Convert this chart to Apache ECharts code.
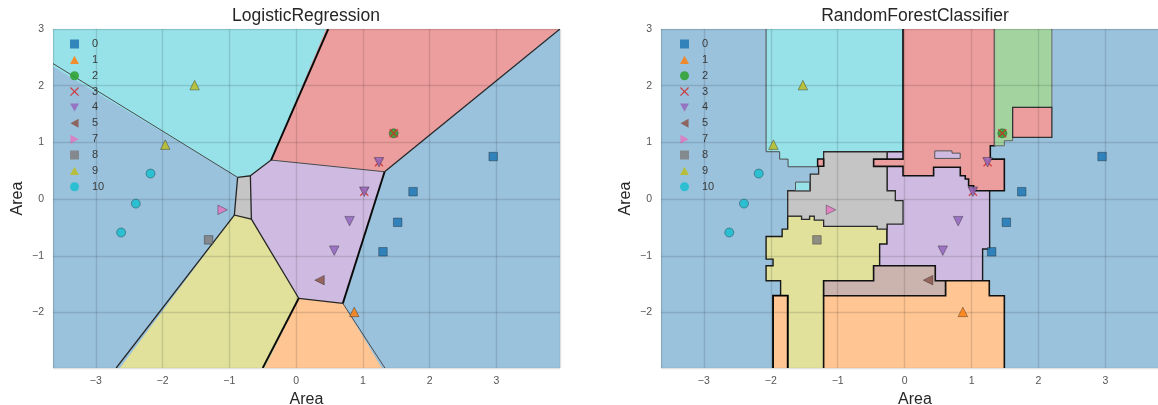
<!DOCTYPE html>
<html><head><meta charset="utf-8">
<script src="https://cdn.jsdelivr.net/npm/echarts@6/dist/echarts.min.js"></script>
<style>html,body{margin:0;padding:0;background:#fff}#c{width:1158px;height:405px}</style>
</head><body><div id="c"></div>
<script>
// ---------- data ----------
const classLabels = ['0','1','2','3','4','5','7','8','9','10'];
const xRange = [-3.64, 3.95];
const yRange = [-2.98, 3.0];
const titles = ['LogisticRegression', 'RandomForestClassifier'];
const axisName = 'Area';

// sample points per class
const pts0  = [[2.95,0.75],[1.75,0.13],[1.52,-0.41],[1.30,-0.93]];
const pts1  = [[0.87,-1.99]];
const pts2  = [[1.46,1.16]];
const pts3  = [[1.46,1.16],[1.24,0.65],[1.02,0.13]];
const pts4  = [[1.24,0.65],[1.02,0.13],[0.80,-0.39],[0.57,-0.91]];
const pts5  = [[0.35,-1.43]];
const pts7  = [[-1.10,-0.19]];
const pts8  = [[-1.31,-0.72]];
const pts9  = [[-1.52,2.01],[-1.96,0.96]];
const pts10 = [[-2.18,0.45],[-2.40,-0.08],[-2.62,-0.59]];
const classPoints = [pts0,pts1,pts2,pts3,pts4,pts5,pts7,pts8,pts9,pts10];

// plot frame (class 0 background)
const frame = [[xRange[0],yRange[0]],[xRange[1],yRange[0]],[xRange[1],yRange[1]],[xRange[0],yRange[1]]];

// LogisticRegression decision regions (vertices)
const lrCyan   = [[-3.64,3.0],[0.48,3.0],[-0.375,0.688],[-0.685,0.41],[-0.876,0.383],[-3.64,2.39]];
const lrRed    = [[0.48,3.0],[3.95,3.0],[1.324,0.482],[-0.375,0.688]];
const lrPurple = [[-0.375,0.688],[1.324,0.482],[0.699,-1.84],[0.039,-1.75],[-0.670,-0.353],[-0.685,0.41]];
const lrGray   = [[-0.876,0.383],[-0.685,0.41],[-0.670,-0.353],[-0.925,-0.282]];
const lrYellow = [[-0.925,-0.282],[-0.670,-0.353],[0.039,-1.75],[-0.5,-2.98],[-2.694,-2.98]];
const lrOrange = [[0.039,-1.75],[0.699,-1.84],[1.328,-2.98],[-0.5,-2.98]];
// LogisticRegression boundaries
const lrEdgesStrong = [
  [[0.48,3.0],[-0.375,0.688]],
  [[1.324,0.482],[0.699,-1.84]],
  [[0.039,-1.75],[-0.5,-2.98]]
];
const lrEdgesMedium = [
  [[1.324,0.482],[3.95,3.0]],
  [[-0.925,-0.282],[-2.694,-2.98]],
  [[-0.670,-0.353],[0.039,-1.75]],
  [[-0.876,0.383],[-0.685,0.41],[-0.670,-0.353],[-0.925,-0.282],[-0.876,0.383]],
  [[-0.685,0.41],[-0.375,0.688]],
  [[0.039,-1.75],[0.699,-1.84]]
];
const lrEdgesLight = [
  [[-3.64,2.39],[-0.876,0.383]],
  [[-0.375,0.688],[1.324,0.482]],
  [[0.699,-1.84],[1.328,-2.98]]
];

// RandomForest decision regions (vertices)
const rfCyan = [[-2.07,3.0],[-0.024,3.0],[-0.024,0.835],[-1.21,0.835],[-1.21,0.57],[-1.742,0.57],[-1.742,0.705],[-1.867,0.705],[-1.867,0.835],[-2.07,0.835]];
const rfYellow = [[-1.747,-0.294],[-0.263,-0.294],[-0.263,-0.794],[-0.373,-0.794],[-0.373,-1.176],[-0.463,-1.176],[-0.463,-1.44],[-1.21,-1.44],[-1.21,-2.98],[-1.747,-2.98],[-1.747,-1.705],[-1.853,-1.705],[-1.853,-1.44],[-2.07,-1.44],[-2.07,-1.176],[-1.966,-1.176],[-1.966,-1.06],[-2.07,-1.06],[-2.07,-0.66],[-1.83,-0.66],[-1.83,-0.53],[-1.747,-0.53]];
const rfPurple = [[-0.263,0.835],[1.27,0.835],[1.27,-0.88],[1.165,-0.88],[1.165,-1.44],[0.458,-1.44],[0.458,-1.176],[-0.373,-1.176],[-0.373,-0.794],[-0.263,-0.794]];
const rfGray = [[-1.21,0.835],[-0.263,0.835],[-0.263,0.147],[-0.139,0.147],[-0.139,-0.029],[-0.024,-0.029],[-0.024,-0.441],[-0.263,-0.441],[-0.263,-0.53],[-0.41,-0.53],[-0.41,-0.48],[-1.21,-0.48],[-1.21,-0.37],[-1.35,-0.37],[-1.35,-0.30],[-1.42,-0.30],[-1.42,-0.36],[-1.54,-0.36],[-1.54,-0.30],[-1.747,-0.30],[-1.747,0.147],[-1.41,0.147],[-1.41,0.44],[-1.285,0.44],[-1.285,0.577],[-1.21,0.577]];
const rfRed = [[-0.024,3.0],[1.344,3.0],[1.344,0.94],[1.28,0.94],[1.28,0.705],[1.49,0.705],[1.49,0.147],[1.03,0.147],[1.03,0.235],[0.956,0.235],[0.956,0.353],[0.906,0.353],[0.906,0.41],[0.832,0.41],[0.832,0.56],[0.433,0.56],[0.433,0.41],[-0.024,0.41],[-0.024,0.577],[-0.463,0.577],[-0.463,0.705],[-0.024,0.705]];
const rfLilac = [[0.45,0.717],[0.45,0.85],[0.708,0.85],[0.708,0.81],[0.83,0.81],[0.83,0.717]];
const rfGreen = [[1.344,3.0],[2.20,3.0],[2.20,1.617],[1.614,1.617],[1.614,1.03],[1.49,1.03],[1.49,0.94],[1.344,0.94]];
const rfRedSquare = [[1.614,1.088],[2.20,1.088],[2.20,1.617],[1.614,1.617]];
const rfCyanSmall = [[-1.63,0.147],[-1.42,0.147],[-1.42,0.30],[-1.63,0.30]];
const rfRedSmall = [[-1.30,0.577],[-1.21,0.577],[-1.21,0.705],[-1.30,0.705]];
const rfBrown = [[-1.21,-1.705],[-1.21,-1.44],[-0.463,-1.44],[-0.463,-1.176],[0.458,-1.176],[0.458,-1.44],[0.613,-1.44],[0.613,-1.705]];
const rfOrange = [[-1.21,-2.98],[-1.21,-1.705],[0.613,-1.705],[0.613,-1.44],[1.265,-1.44],[1.265,-1.705],[1.49,-1.705],[1.49,-2.98]];
const rfOrangeStrip = [[-1.966,-2.98],[-1.966,-1.705],[-1.747,-1.705],[-1.747,-2.98]];

// ---------- styles ----------
const FONT = '"Liberation Sans", Arial, Helvetica, sans-serif';
const markerColor = ['#1f77b4','#ff7f0e','#2ca02c','#d62728','#9467bd','#8c564b','#e377c2','#7f7f7f','#bcbd22','#17becf'];
const fill = {blue:'#9ac2dd', orange:'#ffc593', green:'#a3d4a0', red:'#ec9e9e', purple:'#cfbbe1', brown:'#cbb3ae', gray:'#c5c5c5', yellow:'#e1e19c', cyan:'#97e2e9'};
const SYM = {
  sq: 'rect',
  up: 'path://M5,0L10,9L0,9Z',
  down: 'path://M0,0L10,0L5,9Z',
  left: 'path://M0,5L9,0L9,10Z',
  right: 'path://M0,0L9,5L0,10Z',
  x: 'path://M1,0L5,4L9,0L10,1L6,5L10,9L9,10L5,6L1,10L0,9L4,5L0,1Z',
  circle: 'circle'
};
const classSymbol = [SYM.sq, SYM.up, SYM.circle, SYM.x, SYM.down, SYM.left, SYM.right, SYM.sq, SYM.up, SYM.circle];
const classSize = [8.5, 9.5, 9, 9, 9.5, 9.5, 9.5, 8.5, 9.5, 9];

function pushOut(p, cs) {
  const e = 0.8, o = 5;
  if (Math.abs(p[0] - cs.x) < e) p[0] -= o;
  if (Math.abs(p[0] - (cs.x + cs.width)) < e) p[0] += o;
  if (Math.abs(p[1] - cs.y) < e) p[1] -= o;
  if (Math.abs(p[1] - (cs.y + cs.height)) < e) p[1] += o;
  return p;
}
function regionSeries(gi, pts, color, stroke, lw) {
  return {
    type: 'custom', coordinateSystem: 'cartesian2d', xAxisIndex: gi, yAxisIndex: gi,
    clip: true, silent: true, z: 1, animation: false, data: pts,
    renderItem: function (params, api) {
      if (params.dataIndex !== 0) return null;
      const cs = params.coordSys;
      const p = pts.map(function (d) { return pushOut(api.coord(d), cs); });
      return { type: 'polygon', shape: { points: p },
        style: { fill: color, stroke: stroke || null, lineWidth: lw || 0, lineJoin: 'miter' } };
    }
  };
}
function edgeSeries(gi, lines, color, lw) {
  return {
    type: 'custom', coordinateSystem: 'cartesian2d', xAxisIndex: gi, yAxisIndex: gi,
    clip: true, silent: true, z: 2, animation: false, data: lines.map(function (l) { return l[0]; }),
    renderItem: function (params, api) {
      if (params.dataIndex !== 0) return null;
      return { type: 'group', children: lines.map(function (l) {
        return { type: 'polyline', shape: { points: l.map(function (d) { return api.coord(d); }) },
          style: { stroke: color, lineWidth: lw, fill: null } };
      }) };
    }
  };
}
function scatterSeries(gi) {
  return classLabels.map(function (lab, i) {
    return {
      type: 'scatter', name: lab, xAxisIndex: gi, yAxisIndex: gi, z: 10, silent: true, animation: false,
      data: classPoints[i], symbol: classSymbol[i], symbolSize: classSize[i],
      itemStyle: { color: markerColor[i], opacity: 0.85,
        borderColor: i === 3 ? 'transparent' : 'rgba(30,30,30,0.75)', borderWidth: i === 3 ? 0 : 0.6 }
    };
  });
}
const minus = function (v) { return String(v).replace('-', '\u2212'); };
function xAxisOpt(gi) {
  return { type: 'value', gridIndex: gi, min: xRange[0], max: xRange[1], splitNumber: 8, minInterval: 1, maxInterval: 1,
    z: 5, name: axisName, nameLocation: 'middle', nameGap: 21,
    nameTextStyle: { fontSize: 16, color: '#262626', fontFamily: FONT },
    axisLine: { show: false }, axisTick: { show: false },
    axisLabel: { showMinLabel: false, showMaxLabel: false, margin: 8, fontSize: 10.5, color: '#555', fontFamily: FONT, formatter: minus },
    splitLine: { show: true, lineStyle: { color: 'rgba(0,0,0,0.12)', width: 1.4 } } };
}
function yAxisOpt(gi) {
  return { type: 'value', gridIndex: gi, min: yRange[0], max: yRange[1], splitNumber: 6, minInterval: 1, maxInterval: 1,
    z: 5, name: axisName, nameLocation: 'middle', nameGap: 27,
    nameTextStyle: { fontSize: 16, color: '#262626', fontFamily: FONT },
    axisLine: { show: false }, axisTick: { show: false },
    axisLabel: { showMinLabel: false, showMaxLabel: true, margin: 9, fontSize: 10.5, color: '#555', fontFamily: FONT, formatter: minus },
    splitLine: { show: true, lineStyle: { color: 'rgba(0,0,0,0.12)', width: 1.4 } } };
}
function legendOpt(left) {
  return { left: left, top: 38.5, orient: 'vertical', padding: 0, itemWidth: 9, itemHeight: 9, itemGap: 4.86,
    selectedMode: false, data: classLabels,
    itemStyle: { borderWidth: 0 },
    textStyle: { fontSize: 11, lineHeight: 11, color: '#3c3c3c', fontFamily: FONT, padding: [0, 0, 0, 8] } };
}

const series = [
  // LogisticRegression
  regionSeries(0, frame, fill.blue),
  regionSeries(0, lrCyan, fill.cyan),
  regionSeries(0, lrRed, fill.red),
  regionSeries(0, lrPurple, fill.purple),
  regionSeries(0, lrGray, fill.gray),
  regionSeries(0, lrYellow, fill.yellow),
  regionSeries(0, lrOrange, fill.orange),
  edgeSeries(0, lrEdgesLight, '#4a4a4a', 1),
  edgeSeries(0, lrEdgesMedium, '#262626', 1.3),
  edgeSeries(0, lrEdgesStrong, '#0a0a0a', 1.9),
  // RandomForest
  regionSeries(1, frame, fill.blue),
  regionSeries(1, rfCyan, fill.cyan, '#4d4d4d', 1),
  regionSeries(1, rfYellow, fill.yellow, '#1a1a1a', 1.4),
  regionSeries(1, rfPurple, fill.purple, '#1a1a1a', 1.4),
  regionSeries(1, rfGray, fill.gray, '#2a2a2a', 1.3),
  regionSeries(1, rfRed, fill.red, '#111', 1.6),
  regionSeries(1, rfLilac, fill.purple, '#555', 1),
  regionSeries(1, rfGreen, fill.green, '#666', 1),
  regionSeries(1, rfRedSquare, fill.red, '#333', 1.3),
  regionSeries(1, rfCyanSmall, fill.cyan, '#555', 1),
  regionSeries(1, rfRedSmall, fill.red, '#111', 1.5),
  regionSeries(1, rfBrown, fill.brown, '#111', 1.6),
  regionSeries(1, rfOrange, fill.orange, '#111', 1.6),
  regionSeries(1, rfOrangeStrip, fill.orange, '#000', 1.8)
].concat(scatterSeries(0), scatterSeries(1));

const chart = echarts.init(document.getElementById('c'), null, { renderer: 'canvas' });
chart.setOption({
  animation: false,
  backgroundColor: '#fff',
  title: [
    { text: titles[0], left: 306, top: 7, padding: 0, textAlign: 'center', textStyle: { fontSize: 17.5, fontWeight: 'normal', color: '#262626', fontFamily: FONT } },
    { text: titles[1], left: 915, top: 7, padding: 0, textAlign: 'center', textStyle: { fontSize: 17.5, fontWeight: 'normal', color: '#262626', fontFamily: FONT } }
  ],
  legend: [legendOpt(70), legendOpt(680)],
  grid: [
    { left: 53, top: 29, width: 507, height: 339, containLabel: false, outerBoundsMode: 'none' },
    { left: 661, top: 29, width: 508, height: 339, containLabel: false, outerBoundsMode: 'none' }
  ],
  xAxis: [xAxisOpt(0), xAxisOpt(1)],
  yAxis: [yAxisOpt(0), yAxisOpt(1)],
  series: series
});
</script></body></html>
